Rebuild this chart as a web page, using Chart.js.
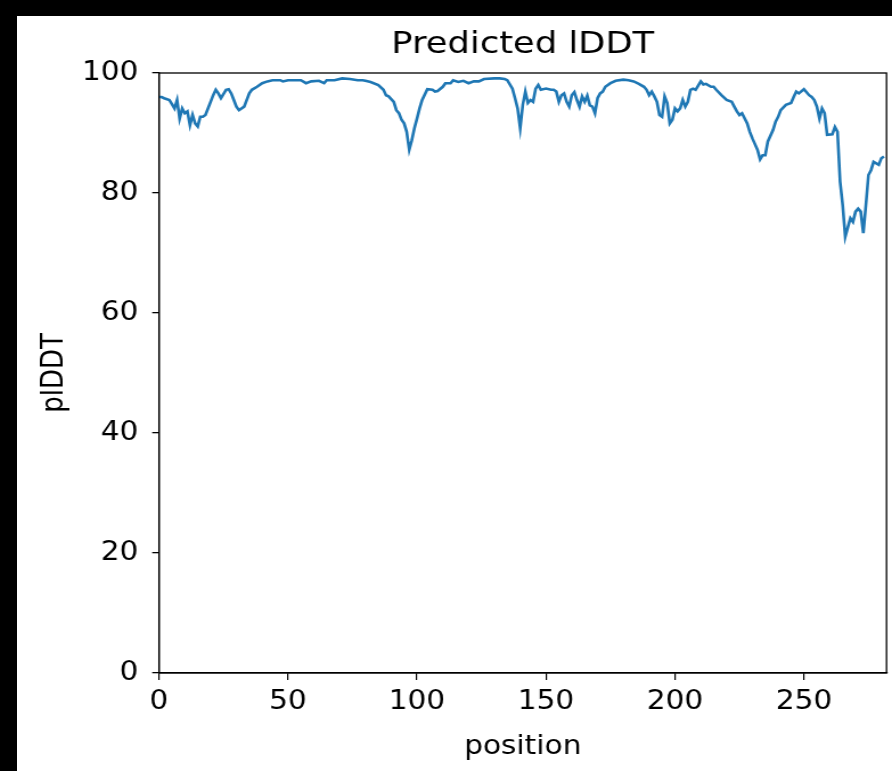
<!DOCTYPE html>
<html>
<head>
<meta charset="utf-8">
<script src="https://cdn.jsdelivr.net/npm/chart.js@4"></script>
<style>
body { margin: 0; background: #000; width: 892px; height: 771px; overflow: hidden; }
#wrap { position: absolute; left: 17px; top: 16px; width: 875px; height: 755px; background: #fff; overflow: hidden; }
canvas { position: absolute; left: 0; top: 0; transform-origin: 0 0; }
</style>
</head>
<body>
<div id="wrap"><canvas id="chart"></canvas></div>
<script>
// residue position and plDDT
let positions = [0, 1, 2, 4, 5, 6, 7, 8, 9, 10, 11, 12, 13, 14, 15, 16, 17, 18, 20, 21, 22, 23, 24, 26, 27, 28, 29, 30, 31, 33, 34, 35, 36, 38, 40, 42, 44, 47, 48, 50,
	52, 55, 57, 59, 62, 64, 65, 68, 71, 74, 77, 79, 80, 82, 85, 87, 88, 89, 91, 92, 93, 94, 95, 96, 97, 98, 99, 100, 101, 102, 104, 106, 107, 108, 110, 111, 113, 114, 116, 118,
	120, 122, 124, 126, 130, 132, 134, 135, 137, 138, 139, 140, 141, 142, 143, 144, 145, 146, 147, 148, 150, 152, 153, 154, 155, 156, 157, 158, 159, 160, 161, 162, 163, 164, 165, 166, 167, 168, 169, 170,
	171, 172, 173, 175, 177, 180, 182, 184, 186, 188, 189, 190, 191, 192, 193, 194, 195, 196, 197, 198, 199, 200, 201, 202, 203, 204, 205, 206, 207, 208, 209, 210, 211, 212, 214, 215, 216, 218, 220, 222,
	223, 224, 225, 226, 228, 229, 230, 232, 233, 234, 235, 236, 238, 239, 240, 241, 243, 245, 246, 247, 248, 250, 252, 253, 254, 255, 256, 257, 258, 259, 261, 262, 263, 264, 265, 266, 268, 269, 270, 271,
	272, 273, 274, 275, 276, 277, 279, 280, 281]
let plddt = [96.0, 96.0, 95.8, 95.5, 94.8, 94.1, 95.5, 92.4, 94.1, 93.3, 93.6, 91.3, 93.0, 91.6, 91.1, 92.7, 92.7, 93.0, 95.2, 96.3, 97.2, 96.6, 95.8, 97.2, 97.3, 96.6, 95.5, 94.4, 93.8, 94.4, 95.5, 96.6, 97.2, 97.7, 98.3, 98.6, 98.8, 98.8, 98.6, 98.8,
	98.8, 98.8, 98.3, 98.6, 98.7, 98.3, 98.8, 98.8, 99.1, 99.0, 98.8, 98.8, 98.7, 98.5, 98.0, 97.2, 96.3, 96.1, 95.2, 93.8, 93.3, 92.2, 91.6, 90.2, 87.2, 88.8, 90.8, 92.4, 94.1, 95.5, 97.3, 97.2, 96.9, 97.0, 97.7, 98.3, 98.3, 98.8, 98.5, 98.7,
	98.3, 98.6, 98.6, 99.0, 99.1, 99.1, 99.0, 98.8, 97.4, 95.8, 94.1, 90.8, 94.7, 96.9, 95.0, 95.5, 95.2, 97.4, 98.0, 97.2, 97.4, 97.2, 97.2, 96.9, 95.2, 96.3, 96.6, 95.2, 94.4, 96.3, 96.8, 95.5, 94.4, 96.1, 95.2, 96.2, 94.6, 94.4, 93.3, 95.8,
	96.6, 96.9, 97.7, 98.3, 98.7, 98.9, 98.8, 98.6, 98.2, 97.7, 97.2, 96.3, 96.9, 96.1, 95.2, 93.0, 92.7, 96.1, 95.0, 91.6, 92.2, 94.1, 93.6, 94.1, 95.5, 94.4, 95.2, 97.2, 97.4, 97.2, 97.9, 98.6, 98.1, 98.2, 97.7, 97.7, 97.2, 96.3, 95.5, 95.2,
	94.4, 93.6, 93.0, 93.3, 91.6, 90.2, 89.1, 87.2, 85.6, 86.3, 86.3, 88.6, 90.5, 91.9, 92.7, 93.8, 94.7, 95.0, 96.0, 96.9, 96.6, 97.3, 96.3, 96.0, 95.5, 94.4, 92.4, 94.1, 93.3, 89.7, 89.8, 91.0, 90.2, 81.9, 78.0, 72.7, 75.8, 75.2, 76.9, 77.4,
	76.9, 73.3, 78.0, 83.0, 83.8, 85.2, 84.7, 85.8, 86.1]
let xTicks = [0, 50, 100, 150, 200, 250]
let yTicks = [0, 20, 40, 60, 80, 100]
let xMax = 282

// the picture is wider than it is tall in its text, so the canvas is stretched sideways
let W = 875, H = 755
let cw = 768
let stretch = W / cw
let canvas = document.getElementById('chart')
canvas.width = cw
canvas.height = H
canvas.style.width = cw + 'px'
canvas.style.height = H + 'px'
canvas.style.transform = 'scaleX(' + stretch + ')'

let font = 'DejaVu Sans'
let tickFont = { family: font, size: 26 }

// box around the plot area and the title above it
let framePlugin = {
	id: 'frame',
	afterDraw(chart) {
		let a = chart.chartArea
		let ctx = chart.ctx
		ctx.save()
		ctx.strokeStyle = '#000'
		ctx.lineWidth = 1.3
		ctx.strokeRect(a.left, a.top, a.right - a.left, a.bottom - a.top)
		ctx.fillStyle = '#000'
		ctx.font = '31px "' + font + '"'
		ctx.textAlign = 'center'
		ctx.textBaseline = 'middle'
		ctx.fillText('Predicted lDDT', (a.left + a.right) / 2, 29)
		ctx.restore()
	},
}

let chart = new Chart(canvas, {
	type: 'line',
	data: {
		datasets: [
			{
				data: positions.map((p, i) => ({ x: p, y: plddt[i] })),
				borderColor: '#1f77b4',
				borderWidth: 2.6,
				pointRadius: 0,
				tension: 0,
				fill: false,
			},
		],
	},
	options: {
		responsive: false,
		animation: false,
		devicePixelRatio: 1,
		layout: { padding: { top: 57, right: 5.5 / stretch, left: 0, bottom: 0 } },
		plugins: { legend: { display: false }, tooltip: { enabled: false } },
		scales: {
			x: {
				type: 'linear',
				min: 0,
				max: xMax,
				afterBuildTicks: (s) => { s.ticks = xTicks.map((v) => ({ value: v })) },
				afterFit: (s) => { s.height = 98 },
				ticks: { font: tickFont, color: '#000', padding: 7, maxRotation: 0 },
				grid: { drawOnChartArea: false, drawTicks: true, tickLength: 7, color: '#000', lineWidth: 1.2 },
				border: { display: true, color: '#000', width: 1.2 },
				title: { display: true, text: 'position', font: tickFont, color: '#000', padding: { top: 0, bottom: 8 } },
			},
			y: {
				min: 0,
				max: 100,
				afterBuildTicks: (s) => { s.ticks = yTicks.map((v) => ({ value: v })) },
				afterFit: (s) => { s.width = 142 / stretch },
				ticks: { font: tickFont, color: '#000', padding: 12 },
				grid: { drawOnChartArea: false, drawTicks: true, tickLength: 6, color: '#000', lineWidth: 1.3 },
				border: { display: true, color: '#000', width: 1.3 },
				title: { display: true, text: 'plDDT', font: tickFont, color: '#000', padding: { top: 18, bottom: 0 } },
			},
		},
	},
	plugins: [framePlugin],
})
</script>
</body>
</html>
